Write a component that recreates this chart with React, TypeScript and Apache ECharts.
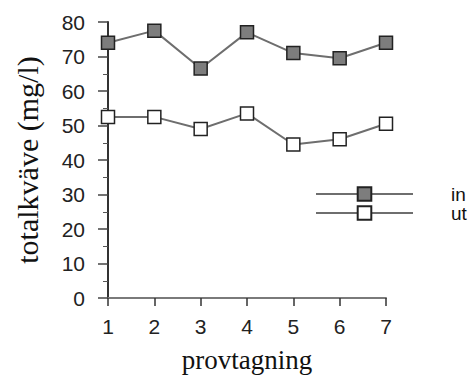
import React, { useEffect, useRef } from "react";
import * as echarts from "echarts";

const samples = [1, 2, 3, 4, 5, 6, 7];
const inValues = [74, 77.5, 66.5, 77, 71, 69.5, 74];
const utValues = [52.5, 52.5, 49, 53.5, 44.5, 46, 50.5];
const seriesNames = ["in", "ut"];
const xName = "provtagning";
const yName = "totalkväve (mg/l)";

export default function App() {
  const ref = useRef<HTMLDivElement>(null);
  useEffect(() => {
    if (!ref.current) return;
    const chart = echarts.init(ref.current, undefined, { renderer: "svg" });
    const lineStyle = { color: "#6e6e6e", width: 2 };
    const legendText = {
      fontFamily: "Liberation Sans",
      fontSize: 19,
      color: "#111",
      padding: [0, 0, 0, 33],
    };
    chart.setOption({
      animation: false,
      backgroundColor: "#fff",
      grid: { left: 108, right: 87, top: 22, bottom: 81, containLabel: false },
      legend: [
        {
          data: [seriesNames[0]],
          left: 310,
          top: 179.5,
          orient: "vertical",
          itemWidth: 97,
          itemHeight: 17,
          textStyle: legendText,
          selectedMode: false,
        },
        {
          data: [seriesNames[1]],
          left: 310,
          top: 198.5,
          orient: "vertical",
          itemWidth: 97,
          itemHeight: 17,
          textStyle: legendText,
          selectedMode: false,
        },
      ],
      xAxis: {
        type: "value",
        min: 1,
        max: 7,
        interval: 1,
        name: xName,
        nameLocation: "middle",
        nameGap: 48,
        nameTextStyle: { fontFamily: "Liberation Serif", fontSize: 27, color: "#111" },
        axisLine: { show: true, onZero: false, lineStyle: { color: "#7a7a7a", width: 2 } },
        axisTick: { show: true, length: 8, lineStyle: { color: "#333", width: 1.5 } },
        axisLabel: { fontFamily: "Liberation Sans", fontSize: 21, color: "#222", margin: 18 },
        splitLine: { show: false },
      },
      yAxis: {
        type: "value",
        min: 0,
        max: 80,
        interval: 10,
        name: yName,
        nameLocation: "middle",
        nameGap: 66,
        nameTextStyle: { fontFamily: "Liberation Serif", fontSize: 30, color: "#111" },
        axisLine: { show: true, lineStyle: { color: "#333", width: 2 } },
        axisTick: { show: true, length: 10, lineStyle: { color: "#444", width: 1.5 } },
        minorTick: { show: true, splitNumber: 2, length: 5, lineStyle: { color: "#555", width: 1 } },
        axisLabel: { fontFamily: "Liberation Sans", fontSize: 21, color: "#222", margin: 23 },
        splitLine: { show: false },
      },
      series: [
        {
          name: seriesNames[0],
          type: "line",
          data: samples.map((s, i) => [s, inValues[i]]),
          symbol: "rect",
          symbolSize: 13,
          lineStyle,
          itemStyle: { color: "#7d7d7d", borderColor: "#222", borderWidth: 1.5 },
          z: 3,
        },
        {
          name: seriesNames[1],
          type: "line",
          data: samples.map((s, i) => [s, utValues[i]]),
          symbol: "rect",
          symbolSize: 13,
          lineStyle,
          itemStyle: { color: "#ffffff", borderColor: "#222", borderWidth: 1.5 },
          z: 3,
        },
      ],
    });
    return () => chart.dispose();
  }, []);
  return (
    <div
      ref={ref}
      style={{ position: "fixed", left: 0, top: 0, width: 473, height: 379, background: "#fff" }}
    />
  );
}
